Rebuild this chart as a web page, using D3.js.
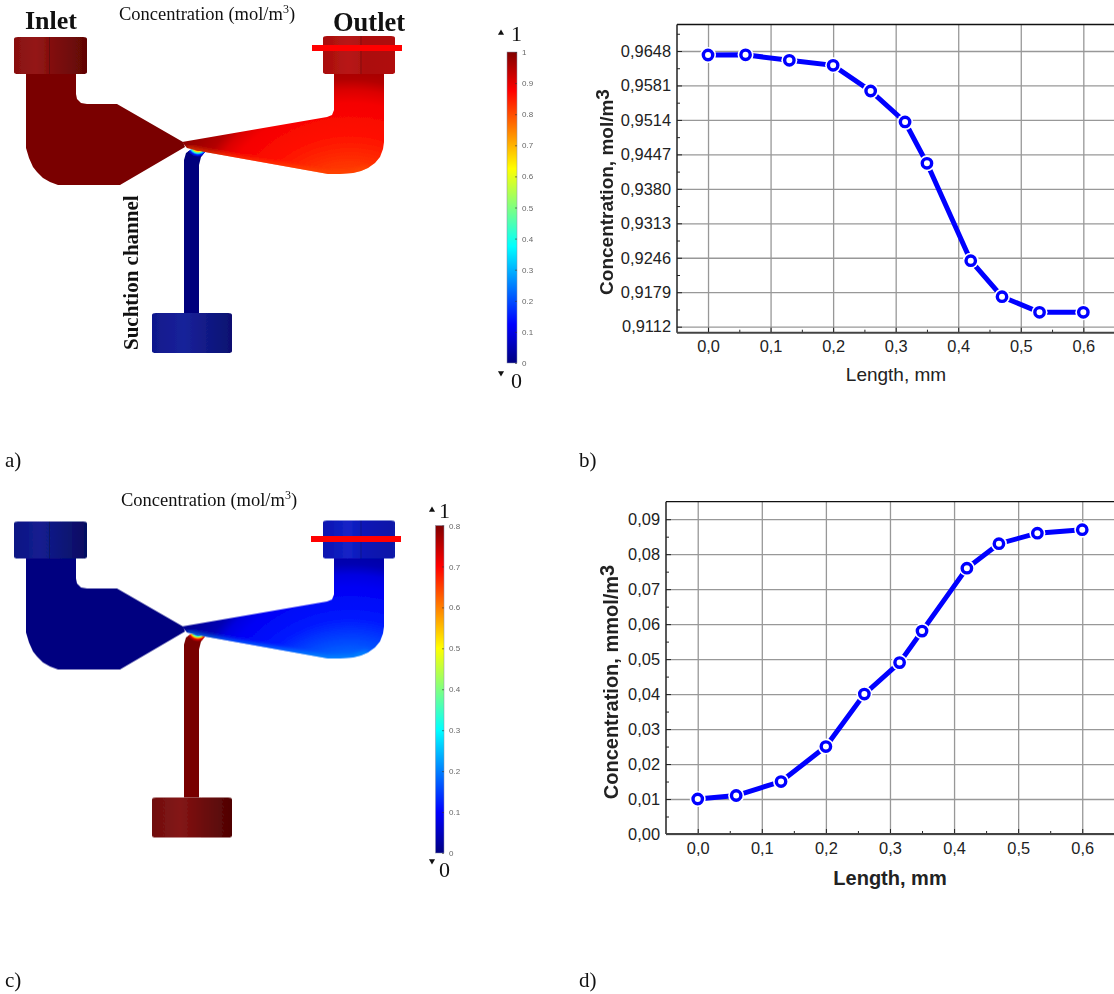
<!DOCTYPE html>
<html>
<head>
<meta charset="utf-8">
<script src="https://d3js.org/d3.v7.min.js"></script>
<style>
  html, body { margin: 0; padding: 0; background: #fff; }
  svg { display: block; }
  .serif { font-family: "Liberation Serif", serif; fill: #111; }
  .sans { font-family: "Liberation Sans", sans-serif; fill: #222; }
</style>
</head>
<body>
<div id="chart"></div>
<script>
// curve data
const lengthMm = [0, 0.06, 0.13, 0.2, 0.26, 0.315, 0.35, 0.42, 0.47, 0.53, 0.6];
const concentrationB = [0.96402, 0.96405, 0.96299, 0.96201, 0.95702, 0.9510, 0.94296, 0.92403, 0.91703, 0.91399, 0.91399];
const concentrationD = [0.01, 0.011, 0.015, 0.025, 0.04, 0.049, 0.058, 0.076, 0.083, 0.086, 0.087];

const xTicks = [0, 0.1, 0.2, 0.3, 0.4, 0.5, 0.6];
const xMinor = [0.05, 0.15, 0.25, 0.35, 0.45, 0.55];
const yTicksB = [0.9112, 0.9179, 0.9246, 0.9313, 0.938, 0.9447, 0.9514, 0.9581, 0.9648];
const yMinorB = [0.91455, 0.92125, 0.92795, 0.93465, 0.94135, 0.94805, 0.95475, 0.96145, 0.96815];
const yTicksD = [0, 0.01, 0.02, 0.03, 0.04, 0.05, 0.06, 0.07, 0.08, 0.09];
const yMinorD = [0.005, 0.015, 0.025, 0.035, 0.045, 0.055, 0.065, 0.075, 0.085];

// colour bar
const jetStops = [0, 0.125, 0.375, 0.625, 0.875, 1];
const jetColors = ["#000080", "#0000ff", "#00ffff", "#ffff00", "#ff0000", "#800000"];
const barTicksA = [0, 0.1, 0.2, 0.3, 0.4, 0.5, 0.6, 0.7, 0.8, 0.9, 1];
const barTicksC = [0, 0.1, 0.2, 0.3, 0.4, 0.5, 0.6, 0.7, 0.8];

// device outline in figure units
const inletBody = [[26,74],[76,74],[76,94],[77,99],[81,103],[87,104],[117,104],[183,142],[185,147],[120,185],[65,185],[58,185],[50,182],[43,178],[37,172],[33,167],[29,158],[26,148]];
const outletBody = [[182,142],[327,117],[332,115],[334,110],[334,74],[384,74],[384,142],[383,149],[380,157],[375,163],[368,168],[361,171],[353,173],[340,174],[328,174],[205,152],[187,148]];
const lowerEdge = [[187,148],[205,152],[328,174],[353,173],[368,168]];
const suction = [[184,313],[184,160],[186,153],[191,149.5],[197,149.5],[205,152],[201,157],[199,165],[199,313]];

// concentration fields, as values on the jet scale
const outletOffsets = [0.39, 0.55, 0.7, 0.76, 0.81, 1];
const outletFieldA = [0.82, 0.86, 0.885, 0.91, 0.95, 1];
const outletFieldC = [0.22, 0.15, 0.115, 0.095, 0.05, 0];
const fringeOffsets = [0.42, 0.55, 0.68, 0.82, 1];
const fringeA = [0.9, 0.65, 0.4, 0.15, 0];
const fringeC = [0.1, 0.4, 0.65, 0.9, 1];

const jet = d3.scaleLinear().domain(jetStops).range(jetColors);
const line = d3.line();
const comma = f => s => d3.format(f)(s).replace(".", ",");

const svg = d3.select("#chart").append("svg").attr("width", 1114).attr("height", 994);
const defs = svg.append("defs");

function gradient(id, stops) {
  const g = defs.append("linearGradient").attr("id", id);
  g.selectAll("stop").data(stops).join("stop")
    .attr("offset", d => d[0]).attr("stop-color", d => d[1]);
}
gradient("capInlet", [[0, "#881010"], [0.3, "#941616"], [0.6, "#7c0c0a"], [1, "#600505"]]);
gradient("capOutlet", [[0, "#a80e0e"], [0.35, "#b81614"], [0.6, "#ac1010"], [1, "#b01010"]]);
gradient("capSuction", [[0, "#10188c"], [0.4, "#18229a"], [1, "#0a1070"]]);
gradient("capInletC", [[0, "#0c1484"], [0.35, "#141e90"], [1, "#060c60"]]);
gradient("capOutletC", [[0, "#0a12b0"], [0.35, "#1424c8"], [0.6, "#0a14b4"], [1, "#0a1aa8"]]);
gradient("capSuctionC", [[0, "#701010"], [0.35, "#841414"], [1, "#500404"]]);

const barGrad = defs.append("linearGradient").attr("id", "jetBar")
  .attr("x1", 0).attr("x2", 0).attr("y1", 1).attr("y2", 0);
barGrad.selectAll("stop").data(jetStops).join("stop")
  .attr("offset", d => d).attr("stop-color", d => jet(d));

defs.append("filter").attr("id", "soft").append("feGaussianBlur").attr("stdDeviation", 0.5);
defs.append("filter").attr("id", "edge").append("feGaussianBlur").attr("stdDeviation", 2);

function device(id, dy, o) {
  const g = svg.append("g").attr("transform", `translate(0,${dy})`).attr("filter", "url(#soft)");

  const field = defs.append("radialGradient").attr("id", "field" + id)
    .attr("gradientUnits", "userSpaceOnUse").attr("cx", 350).attr("cy", 250).attr("r", 210);
  field.selectAll("stop").data(outletOffsets).join("stop")
    .attr("offset", d => d).attr("stop-color", (d, i) => jet(o.field[i]));

  const fringe = defs.append("radialGradient").attr("id", "fringe" + id)
    .attr("gradientUnits", "userSpaceOnUse").attr("cx", 198).attr("cy", 145).attr("r", 12);
  fringe.selectAll("stop").data(fringeOffsets).join("stop")
    .attr("offset", d => d).attr("stop-color", (d, i) => jet(o.fringe[i]));

  defs.append("clipPath").attr("id", "clipOut" + id).append("path").attr("d", line(outletBody) + "Z");
  defs.append("clipPath").attr("id", "clipSuc" + id).append("path").attr("d", line(suction) + "Z");

  g.append("path").attr("d", line(suction) + "Z").attr("fill", o.channel);
  g.append("circle").attr("cx", 198).attr("cy", 145).attr("r", 12)
    .attr("fill", `url(#fringe${id})`).attr("clip-path", `url(#clipSuc${id})`);
  g.append("path").attr("d", line(inletBody) + "Z").attr("fill", o.inlet);
  g.append("path").attr("d", line(outletBody) + "Z").attr("fill", `url(#field${id})`);
  g.append("g").attr("clip-path", `url(#clipOut${id})`)
    .append("path").attr("d", line(lowerEdge)).attr("fill", "none")
    .attr("stroke", o.edge).attr("stroke-width", 4).attr("stroke-opacity", 0.7)
    .attr("filter", "url(#edge)");

  // end caps
  const caps = [
    { x: 14, y: 37, w: 73, h: 37, fill: o.capInlet, seam: 49.5 },
    { x: 323, y: 36, w: 72, h: 38, fill: o.capOutlet, seam: 361 },
    { x: 152, y: 313, w: 80, h: 40, fill: o.capSuction, seam: null }
  ];
  g.selectAll("rect.cap").data(caps).join("rect").attr("class", "cap")
    .attr("x", d => d.x).attr("y", d => d.y).attr("width", d => d.w).attr("height", d => d.h)
    .attr("rx", 4).attr("ry", 2).attr("fill", d => `url(#${d.fill})`);
  g.selectAll("line.seam").data(caps.filter(d => d.seam)).join("line").attr("class", "seam")
    .attr("x1", d => d.seam).attr("x2", d => d.seam)
    .attr("y1", d => d.y).attr("y2", d => d.y + d.h)
    .attr("stroke", "#000").attr("stroke-opacity", 0.25);
}

device("A", 0, {
  field: outletFieldA, fringe: fringeA, channel: "#00007c", inlet: "#7a0000", edge: "#ff5000",
  capInlet: "capInlet", capOutlet: "capOutlet", capSuction: "capSuction"
});
device("C", 484.5, {
  field: outletFieldC, fringe: fringeC, channel: "#780000", inlet: "#000080", edge: "#00a0ff",
  capInlet: "capInletC", capOutlet: "capOutletC", capSuction: "capSuctionC"
});

// red sampling line at the outlet
svg.selectAll("rect.probe").data([{ x: 312, y: 45 }, { x: 311, y: 536 }]).join("rect")
  .attr("class", "probe").attr("x", d => d.x).attr("y", d => d.y)
  .attr("width", 90).attr("height", 6).attr("fill", "#ff0000");

function colorBar(o) {
  const y = d3.scaleLinear().domain(o.domain).range([o.y1, o.y0]);
  svg.append("rect").attr("x", o.x).attr("y", o.y0).attr("width", o.w).attr("height", o.y1 - o.y0)
    .attr("fill", "url(#jetBar)").attr("stroke", "#8890a8").attr("stroke-width", 0.5);
  const g = svg.append("g").attr("transform", `translate(${o.x + o.w},0)`)
    .call(d3.axisRight(y).tickValues(o.ticks).tickSize(-2).tickPadding(5).tickFormat(d3.format("")));
  g.select(".domain").remove();
  g.selectAll("line").attr("stroke", "#333").attr("stroke-opacity", 0.6);
  g.selectAll("text").attr("font-family", "Liberation Sans").attr("font-size", 8).attr("fill", "#666");

  const sym = d3.symbol().type(d3.symbolTriangle).size(16);
  svg.append("path").attr("d", sym()).attr("transform", `translate(${o.triX},${o.triUp})`).attr("fill", "#111");
  svg.append("path").attr("d", sym()).attr("transform", `translate(${o.triX},${o.triDown}) rotate(180)`).attr("fill", "#111");
  svg.append("text").attr("class", "serif").attr("x", o.numX).attr("y", o.oneY).attr("font-size", 22).text("1");
  svg.append("text").attr("class", "serif").attr("x", o.numX).attr("y", o.zeroY).attr("font-size", 22).text("0");
}
colorBar({ x: 507, w: 10, y0: 52, y1: 363, domain: [0, 1], ticks: barTicksA, triX: 501, triUp: 33, triDown: 373, numX: 511, oneY: 41, zeroY: 388 });
colorBar({ x: 435.5, w: 8.5, y0: 525.5, y1: 853, domain: [0, 0.8], ticks: barTicksC, triX: 432, triUp: 510, triDown: 861, numX: 439, oneY: 518, zeroY: 877 });

function concentrationTitle(x, y) {
  const t = svg.append("text").attr("class", "serif").attr("x", x).attr("y", y).attr("font-size", 18.5);
  t.append("tspan").text("Concentration (mol/m");
  t.append("tspan").attr("dy", -7).attr("font-size", 12).text("3");
  t.append("tspan").attr("dy", 7).text(")");
}
concentrationTitle(119, 20);
concentrationTitle(121, 506);

svg.append("text").attr("class", "serif").attr("x", 25).attr("y", 29)
  .attr("font-size", 26).attr("font-weight", "bold").text("Inlet");
svg.append("text").attr("class", "serif").attr("x", 333).attr("y", 31)
  .attr("font-size", 26.5).attr("font-weight", "bold").text("Outlet");
svg.append("text").attr("class", "serif").attr("transform", "translate(137.5,350) rotate(-90)")
  .attr("font-size", 21).attr("font-weight", "bold").text("Suchtion channel");

svg.selectAll("text.panel").data([
  { t: "a)", x: 5, y: 467 }, { t: "b)", x: 579, y: 467 }, { t: "c)", x: 5, y: 987 }, { t: "d)", x: 579, y: 987 }
]).join("text").attr("class", "panel serif")
  .attr("x", d => d.x).attr("y", d => d.y).attr("font-size", 21).text(d => d.t);

function plot(o) {
  const x = d3.scaleLinear().domain(o.xDomain).range([o.left, o.right]);
  const y = d3.scaleLinear().domain(o.yDomain).range([o.bottom, o.top]);
  const g = svg.append("g");
  const h = o.bottom - o.top, w = o.right - o.left;

  // grid
  const gx = g.append("g").attr("transform", `translate(0,${o.bottom})`)
    .call(d3.axisBottom(x).tickValues(xTicks).tickSize(-h).tickFormat(""));
  const gy = g.append("g").attr("transform", `translate(${o.left},0)`)
    .call(d3.axisLeft(y).tickValues(o.yTicks).tickSize(-w).tickFormat(""));
  [gx, gy].forEach(a => {
    a.select(".domain").remove();
    a.selectAll("line").attr("stroke", "#989898").attr("stroke-width", 1.3);
  });

  // inward ticks with labels
  const ax = g.append("g").attr("transform", `translate(0,${o.bottom})`)
    .call(d3.axisBottom(x).tickValues(xTicks).tickSize(-5).tickPadding(8).tickFormat(comma(".1f")));
  const ay = g.append("g").attr("transform", `translate(${o.left},0)`)
    .call(d3.axisLeft(y).tickValues(o.yTicks).tickSize(-5).tickPadding(6).tickFormat(comma(o.yFormat)));
  const mx = g.append("g").attr("transform", `translate(0,${o.bottom})`)
    .call(d3.axisBottom(x).tickValues(xMinor).tickSize(-3).tickFormat(""));
  const my = g.append("g").attr("transform", `translate(${o.left},0)`)
    .call(d3.axisLeft(y).tickValues(o.yMinor).tickSize(-3).tickFormat(""));
  [ax, ay, mx, my].forEach(a => {
    a.select(".domain").remove();
    a.selectAll("line").attr("stroke", "#222");
    a.selectAll("text").attr("font-family", "Liberation Sans").attr("font-size", 16.4).attr("fill", "#222");
  });

  // frame: top and left black, bottom a bit heavier
  g.append("line").attr("x1", o.left).attr("x2", o.right).attr("y1", o.top).attr("y2", o.top)
    .attr("stroke", "#111").attr("stroke-width", 1.3);
  g.append("line").attr("x1", o.left).attr("x2", o.left).attr("y1", o.top).attr("y2", o.bottom)
    .attr("stroke", "#222").attr("stroke-width", 1.5);
  g.append("line").attr("x1", o.left).attr("x2", o.right).attr("y1", o.bottom).attr("y2", o.bottom)
    .attr("stroke", "#444").attr("stroke-width", 2);

  const pts = lengthMm.map((d, i) => [x(d), y(o.values[i])]);
  g.append("path").attr("d", line(pts)).attr("fill", "none")
    .attr("stroke", "#0000ff").attr("stroke-width", 5);
  // gap around each marker, Origin style
  g.selectAll("circle.gap").data(pts).join("circle").attr("class", "gap")
    .attr("cx", d => d[0]).attr("cy", d => d[1]).attr("r", 8).attr("fill", "#fff");
  g.selectAll("circle.pt").data(pts).join("circle").attr("class", "pt")
    .attr("cx", d => d[0]).attr("cy", d => d[1]).attr("r", 4.7)
    .attr("fill", "#fff").attr("stroke", "#0000ff").attr("stroke-width", 3.4);

  // y title with a large raised 3
  const yt = g.append("text").attr("class", "sans")
    .attr("transform", `translate(${o.yTitleX},${o.yTitleY}) rotate(-90)`)
    .attr("text-anchor", "middle").attr("font-size", o.yTitleSize).attr("font-weight", "bold");
  yt.append("tspan").text(o.yTitle);
  yt.append("tspan").attr("dy", -4).text("3");

  g.append("text").attr("class", "sans").attr("x", o.xTitleX).attr("y", o.xTitleY)
    .attr("text-anchor", "middle").attr("font-size", o.xTitleSize)
    .attr("font-weight", o.xTitleWeight).text("Length, mm");
}

plot({
  left: 677, right: 1114.6, top: 24.5, bottom: 332.7,
  xDomain: [-0.0496, 0.65], yDomain: [0.91003, 0.96995],
  yTicks: yTicksB, yMinor: yMinorB, yFormat: ".4f", values: concentrationB,
  yTitle: "Concentration, mol/m", yTitleX: 613, yTitleY: 192, yTitleSize: 19,
  xTitleX: 896, xTitleY: 381, xTitleSize: 19, xTitleWeight: "normal"
});
plot({
  left: 666, right: 1114.6, top: 501.7, bottom: 834,
  xDomain: [-0.0495, 0.6505], yDomain: [0, 0.095],
  yTicks: yTicksD, yMinor: yMinorD, yFormat: ".2f", values: concentrationD,
  yTitle: "Concentration, mmol/m", yTitleX: 618, yTitleY: 682, yTitleSize: 20,
  xTitleX: 890, xTitleY: 885, xTitleSize: 20, xTitleWeight: "bold"
});
</script>
</body>
</html>
